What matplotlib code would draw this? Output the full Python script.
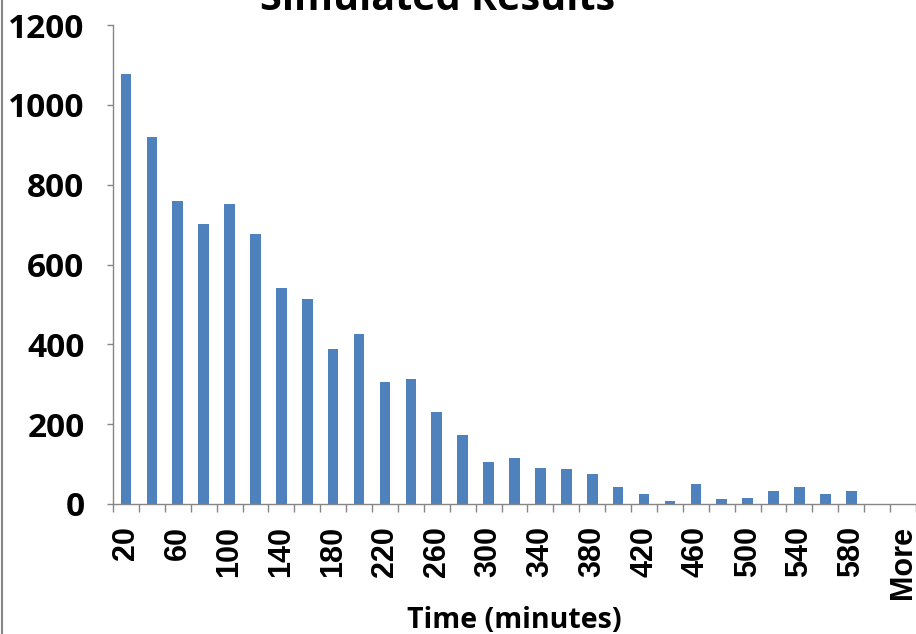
import numpy as np
import matplotlib
matplotlib.use("Agg")
import matplotlib.pyplot as plt
from matplotlib.lines import Line2D

# bins (upper edges, minutes) and simulated counts
bins = [str(b) for b in range(20, 620, 20)] + ["More"]
counts = [1077, 920, 760, 702, 752, 677, 542, 513, 388, 427,
          305, 312, 230, 173, 105, 115, 90, 87, 76, 43,
          26, 8, 51, 12, 16, 33, 43, 26, 33, 0,
          0]

bar_color = "#4F81BD"
axis_color = "#868686"

fig = plt.figure(figsize=(9.16, 6.34), dpi=100)
ax = fig.add_axes([113 / 916, 1 - 504 / 634, 1 - 113 / 916, (504 - 25) / 634])

x = np.arange(len(bins))
ax.bar(x, counts, width=0.41, color=bar_color, zorder=2)

ax.set_xlim(-0.5, len(bins) - 0.5)
ax.set_ylim(0, 1200)
ax.set_yticks(np.arange(0, 1201, 200))

# category boundaries get the tick marks, every other bin gets a label
ax.set_xticks(x[::2])
ax.set_xticklabels(bins[::2], rotation=90, fontfamily="Liberation Sans",
                   fontweight="bold", fontsize=22)
ax.set_xticks(np.arange(-0.5, len(bins)), minor=True)
ax.tick_params(axis="x", which="major", length=0, pad=16)
ax.tick_params(axis="x", which="minor", length=6, width=1, color=axis_color,
               direction="out")
ax.tick_params(axis="y", length=4.5, width=1, color=axis_color, direction="out",
               pad=16)
for lbl in ax.get_yticklabels():
    lbl.set_fontfamily("Open Sans")
    lbl.set_fontweight("bold")
    lbl.set_fontsize(24)

for side in ("top", "right"):
    ax.spines[side].set_visible(False)
for side in ("left", "bottom"):
    ax.spines[side].set_color(axis_color)
    ax.spines[side].set_linewidth(1)

fig.text(514 / 916, 1 - 628 / 634, "Time (minutes)", ha="center",
         va="baseline", fontfamily="Open Sans", fontweight="bold", fontsize=20.5)

# title is cut off at the top of the frame in the original
fig.text(438 / 916, 1 - 10 / 634, "Simulated Results", ha="center",
         va="baseline", fontfamily="Open Sans", fontweight="bold", fontsize=28.5)

# thin chart border on the left edge
fig.add_artist(Line2D([0.002, 0.002], [0, 1], transform=fig.transFigure,
                      color=axis_color, linewidth=1.5))

fig.savefig("out.png", dpi=100)
